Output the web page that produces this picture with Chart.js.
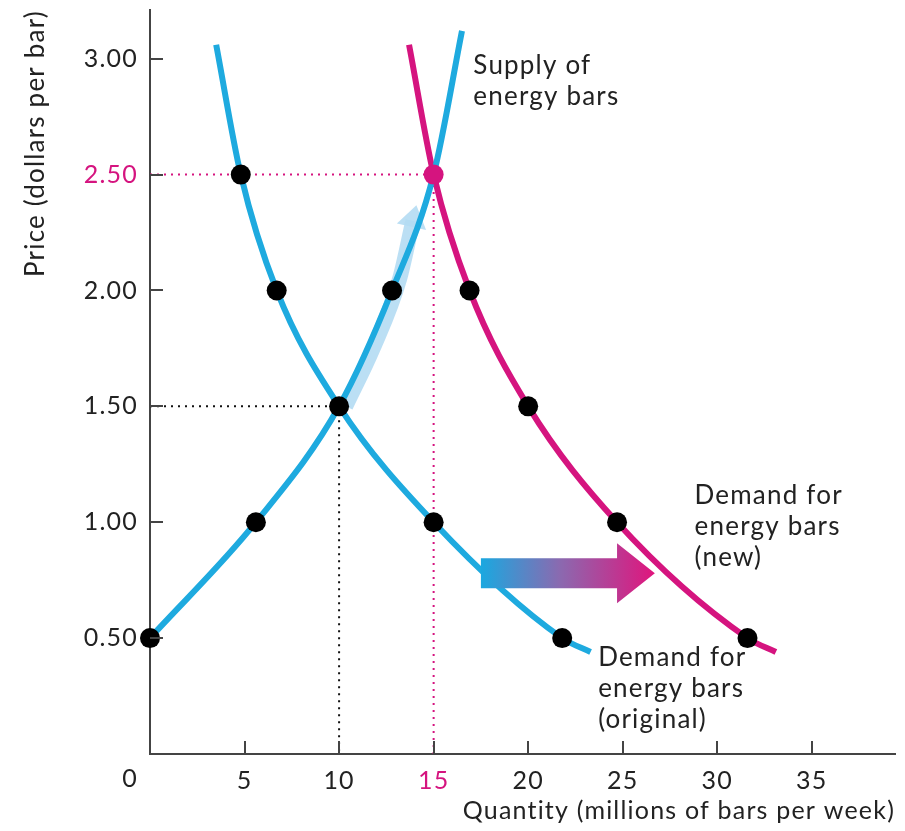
<!DOCTYPE html>
<html><head><meta charset="utf-8">
<script src="https://cdn.jsdelivr.net/npm/chart.js@4"></script>
<style>html,body{margin:0;padding:0;background:#fff}</style>
</head><body>
<canvas id="c" width="905" height="831"></canvas>
<script>
// ---- data ----
const xTicks = [5, 10, 15, 20, 25, 30, 35];
const yTicks = [0.5, 1.0, 1.5, 2.0, 2.5, 3.0];

const demandOrigQ = [3.5, 4.8, 6.7, 10, 15, 21.8, 23.3];
const demandOrigP = [3.06, 2.5, 2.0, 1.5, 1.0, 0.5, 0.44];
const supplyQ = [0, 5.6, 10, 12.8, 15, 16.5];
const supplyP = [0.5, 1.0, 1.5, 2.0, 2.5, 3.12];
const demandNewQ = [13.7, 15, 16.9, 20.0, 24.7, 31.6, 33.1];
const demandNewP = [3.06, 2.5, 2.0, 1.5, 1.0, 0.5, 0.44];

const dotQ = [4.8, 6.7, 10, 15, 21.8, 0, 5.6, 12.8, 16.9, 20.0, 24.7, 31.6];
const dotP = [2.5, 2.0, 1.5, 1.0, 0.5, 0.5, 1.0, 2.0, 2.0, 1.5, 1.0, 0.5];
const eqOrig = [10, 1.5];
const eqNew = [15, 2.5];

const moveAlongQ = [10.35, 11.8, 13.2, 13.9];
const moveAlongP = [1.5, 1.75, 2.05, 2.3];
const shiftQ = [17.5, 24.7, 26.7]; // shaft start, head start, tip
const shiftP = 0.78;

const CYAN = '#1eaadf', MAGENTA = '#d5147f', DARK = '#222', AXIS = '#444';
const pts = (q, p) => q.map((v, i) => ({x: v, y: p[i]}));

const labels = [
  {q: 17.1, p: 2.935, lines: ['Supply of', 'energy bars']},
  {q: 28.8, p: 1.08, lines: ['Demand for', 'energy bars', '(new)']},
  {q: 23.7, p: 0.38, lines: ['Demand for', 'energy bars', '(original)']}
];

const decor = {
  id: 'decor',
  beforeDraw(chart) {
    if ('letterSpacing' in chart.ctx) chart.ctx.letterSpacing = '1.2px';
  },
  beforeDatasetsDraw(chart) {
    const {ctx, scales: {x, y}} = chart;
    const n = moveAlongQ.length;
    const x1 = x.getPixelForValue(moveAlongQ[n - 2]), y1 = y.getPixelForValue(moveAlongP[n - 2]);
    const x2 = x.getPixelForValue(moveAlongQ[n - 1]), y2 = y.getPixelForValue(moveAlongP[n - 1]);
    const a = Math.atan2(y2 - y1, x2 - x1);
    ctx.save();
    ctx.translate(x2, y2); ctx.rotate(a);
    ctx.fillStyle = 'rgba(180,220,243,0.9)';
    ctx.beginPath(); ctx.moveTo(16, 0); ctx.lineTo(-6, -15); ctx.lineTo(-6, 15); ctx.closePath(); ctx.fill();
    ctx.restore();
  },
  afterDatasetsDraw(chart) {
    const {ctx, scales: {x, y}} = chart;
    const xs = x.getPixelForValue(shiftQ[0]), xh = x.getPixelForValue(shiftQ[1]), xt = x.getPixelForValue(shiftQ[2]);
    const yc = y.getPixelForValue(shiftP);
    const g = ctx.createLinearGradient(xs, 0, xt, 0);
    g.addColorStop(0, '#1aa8e0'); g.addColorStop(0.45, '#8a6ab0'); g.addColorStop(1, '#e0157d');
    ctx.save();
    ctx.fillStyle = g;
    ctx.beginPath();
    ctx.moveTo(xs, yc - 15); ctx.lineTo(xh, yc - 15); ctx.lineTo(xh, yc - 30); ctx.lineTo(xt, yc);
    ctx.lineTo(xh, yc + 30); ctx.lineTo(xh, yc + 15); ctx.lineTo(xs, yc + 15); ctx.closePath();
    ctx.fill();
    ctx.restore();
  },
  afterDraw(chart) {
    const {ctx, scales: {x, y}} = chart;
    const x0 = x.getPixelForValue(0), y0 = y.getPixelForValue(0);
    ctx.save();
    ctx.strokeStyle = AXIS; ctx.lineWidth = 2;
    xTicks.forEach(v => { const px = Math.round(x.getPixelForValue(v)); ctx.beginPath(); ctx.moveTo(px, y.bottom); ctx.lineTo(px, y.bottom - 13); ctx.stroke(); });
    yTicks.forEach(v => { const py = Math.round(y.getPixelForValue(v)); ctx.beginPath(); ctx.moveTo(x.left, py); ctx.lineTo(x.left + 13, py); ctx.stroke(); });
    ctx.fillStyle = DARK; ctx.font = '25px Lato'; ctx.textAlign = 'center'; ctx.textBaseline = 'middle';
    ctx.fillText('0', x0 - 20, y0 + 25);
    ctx.font = '26px Lato'; ctx.textAlign = 'left'; ctx.textBaseline = 'alphabetic';
    labels.forEach(l => {
      const px = x.getPixelForValue(l.q), py = y.getPixelForValue(l.p);
      l.lines.forEach((t, i) => ctx.fillText(t, px, py + i * 31));
    });
    ctx.restore();
  }
};

new Chart(document.getElementById('c'), {
  type: 'scatter',
  data: {
    datasets: [
      {data: [{x: eqNew[0], y: eqNew[1]}], pointRadius: 10, pointBackgroundColor: MAGENTA, pointBorderWidth: 0, showLine: false, clip: false},
      {data: pts(dotQ, dotP), pointRadius: 10, pointBackgroundColor: '#000', pointBorderWidth: 0, showLine: false, clip: false},
      {data: pts(supplyQ, supplyP), showLine: true, borderColor: CYAN, borderWidth: 6, pointRadius: 0, cubicInterpolationMode: 'monotone', borderCapStyle: 'butt', clip: false},
      {data: pts(demandNewQ, demandNewP), showLine: true, borderColor: MAGENTA, borderWidth: 6, pointRadius: 0, cubicInterpolationMode: 'monotone', borderCapStyle: 'butt', clip: false},
      {data: pts(demandOrigQ, demandOrigP), showLine: true, borderColor: CYAN, borderWidth: 6, pointRadius: 0, cubicInterpolationMode: 'monotone', borderCapStyle: 'butt', clip: false},
      {data: pts(moveAlongQ, moveAlongP), showLine: true, borderColor: 'rgba(180,220,243,0.9)', borderWidth: 15, pointRadius: 0, cubicInterpolationMode: 'monotone', borderCapStyle: 'butt'},
      {data: [{x: 0, y: eqNew[1]}, {x: eqNew[0], y: eqNew[1]}, {x: eqNew[0], y: 0}], showLine: true, borderColor: MAGENTA, borderWidth: 2, borderDash: [2, 5], pointRadius: 0, tension: 0},
      {data: [{x: 0, y: eqOrig[1]}, {x: eqOrig[0], y: eqOrig[1]}, {x: eqOrig[0], y: 0}], showLine: true, borderColor: '#111', borderWidth: 2, borderDash: [2, 5], pointRadius: 0, tension: 0}
    ]
  },
  options: {
    responsive: false,
    animation: false,
    devicePixelRatio: 1,
    layout: {padding: {top: 10, right: 10, left: 0, bottom: 0}},
    plugins: {legend: {display: false}, tooltip: {enabled: false}},
    scales: {
      x: {
        type: 'linear', min: 0, max: 39.4,
        grid: {display: false, drawTicks: false},
        border: {display: true, color: AXIS, width: 2},
        ticks: {stepSize: 5, includeBounds: false, padding: 12, autoSkip: false, maxRotation: 0, font: {family: 'Lato', size: 25},
          color: c => (c.tick && c.tick.value === 15) ? MAGENTA : DARK,
          callback: v => xTicks.includes(v) ? String(v) : ''},
        title: {display: true, text: 'Quantity (millions of bars per week)', align: 'end', color: DARK,
          font: {family: 'Lato', size: 25}, padding: {top: 0, bottom: 5}},
        afterFit: s => { s.height = 77; s.paddingLeft = 0; s.paddingRight = 0; }
      },
      y: {
        type: 'linear', min: 0, max: 3.21,
        grid: {display: false, drawTicks: false},
        border: {display: true, color: AXIS, width: 2},
        ticks: {stepSize: 0.5, includeBounds: false, padding: 12, autoSkip: false, font: {family: 'Lato', size: 25},
          color: c => (c.tick && c.tick.value === 2.5) ? MAGENTA : DARK,
          callback: v => yTicks.includes(v) ? v.toFixed(2) : ''},
        title: {display: true, text: 'Price (dollars per bar)', align: 'end', color: DARK,
          font: {family: 'Lato', size: 26}, padding: {top: 20, bottom: 0}},
        afterFit: s => { s.width = 150; s.paddingTop = 0; s.paddingBottom = 0; }
      }
    }
  },
  plugins: [decor]
});
</script>
</body></html>
